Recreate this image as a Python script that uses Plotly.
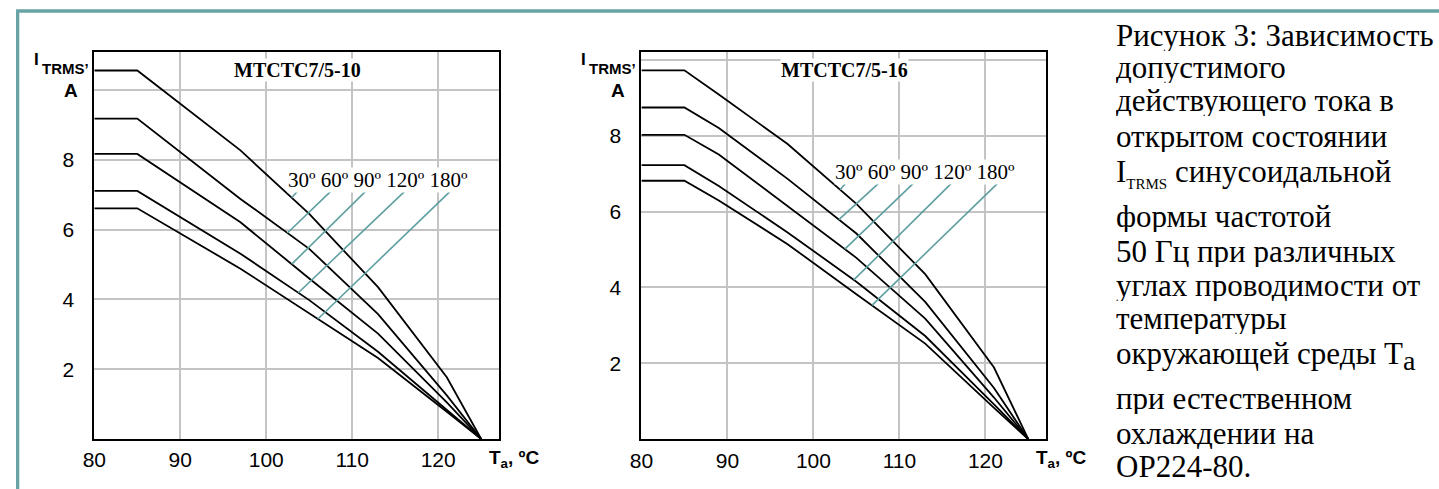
import numpy as np
import plotly.graph_objects as go

W, H = 1439, 489

# ---------------- data ----------------
angles = ["30º", "60º", "90º", "120º", "180º"]

# MTCTC7/5-10 : ambient temperature (°C) vs allowed RMS current (A)
t_10 = [80, 85, 97, 105, 113, 121, 125]
i10_30 = [10.56, 10.56, 8.27, 6.45, 4.35, 1.77, 0.0]
i10_60 = [9.18, 9.18, 6.88, 5.45, 3.58, 1.25, 0.0]
i10_90 = [8.17, 8.17, 6.21, 4.60, 3.02, 1.05, 0.0]
i10_120 = [7.11, 7.11, 5.31, 3.98, 2.50, 0.85, 0.0]
i10_180 = [6.61, 6.61, 4.88, 3.60, 2.32, 0.78, 0.0]

# MTCTC7/5-16
t_16 = [80, 85, 89, 97, 105, 113, 121, 125]
i16_30 = [9.72, 9.72, 9.08, 7.78, 6.20, 4.35, 1.89, 0.0]
i16_60 = [8.74, 8.74, 8.20, 6.86, 5.42, 3.62, 1.35, 0.0]
i16_90 = [8.02, 8.02, 7.50, 6.15, 4.78, 3.18, 1.10, 0.0]
i16_120 = [7.22, 7.22, 6.67, 5.45, 4.15, 2.72, 0.92, 0.0]
i16_180 = [6.81, 6.81, 6.29, 5.14, 3.82, 2.52, 0.83, 0.0]

x_tickvals = [80, 90, 100, 110, 120]
x_ticktext = ["80", "90", "100", "110", "120"]
y_tickvals = [2, 4, 6, 8]
y_ticktext = ["2", "4", "6", "8"]
y_extra_grid = [10]

# leader lines from angle labels to curves (data units)
leader_top_10 = [103.6, 107.47, 111.52, 116.07, 121.36]
leader_end_10 = [102.96, 102.46, 102.96, 103.73, 106.0]
leader_y_10 = 7.09
leader_top_16 = [103.73, 107.58, 111.62, 116.04, 121.42]
leader_end_16 = [103.1, 102.96, 103.65, 104.7, 106.8]
leader_y_16 = 6.74

caption_lines = [
    "Рисунок 3: Зависимость",
    "допустимого",
    "действующего тока в",
    "открытом состоянии",
    "I<sub><span style='font-size:15px'>TRMS</span></sub> синусоидальной",
    "формы частотой",
    "50 Гц при различных",
    "углах проводимости от",
    "температуры",
    "окружающей среды T<sub><span style='font-size:28px'>a</span></sub>",
    "при естественном",
    "охлаждении на",
    "ОР224-80.",
]
caption_baselines = [45, 77.5, 110.5, 146.7, 183.3, 226.7, 261.7, 295, 328.3, 366.7, 408.3, 443.3, 476.7]

# ---------------- style ----------------
TEAL = "#5e9ea0"
FRAME = "#68a4a6"
GRID = "#c4c4c4"
SANS = "Liberation Sans, Arial"
SERIF = "Liberation Serif, Times New Roman"
CAP_SIZE = 31


def px_x(px):
    return px / W


def px_y(py):
    return 1 - py / H


panels = [
    dict(x="x", y="y", left=83, right=491, top=52, bottom=439, xr=[80, 127.06], yr=[0, 11.09],
         t=t_10, curves=[i10_30, i10_60, i10_90, i10_120, i10_180],
         ltop=leader_top_10, lend=leader_end_10, ly=leader_y_10,
         title="MTCTC7/5-10", title_xy=(288, 70), lab_xy=(369, 180)),
    dict(x="x2", y="y2", left=634.7, right=1042.3, top=51.7, bottom=439.3, xr=[80, 127.0], yr=[0, 10.21],
         t=t_16, curves=[i16_30, i16_60, i16_90, i16_120, i16_180],
         ltop=leader_top_16, lend=leader_end_16, ly=leader_y_16,
         title="MTCTC7/5-16", title_xy=(840, 70), lab_xy=(921, 172)),
]

fig = go.Figure()
annotations = []

for k, p in enumerate(panels):
    for name, c in zip(angles, p["curves"]):
        fig.add_trace(go.Scatter(x=p["t"], y=c, mode="lines", name=name,
                                 line=dict(color="black", width=1.8),
                                 xaxis=p["x"], yaxis=p["y"], hoverinfo="skip"))
    for name, c, xt, xe in zip(angles, p["curves"], p["ltop"], p["lend"]):
        ye = float(np.interp(xe, p["t"], c))
        fig.add_trace(go.Scatter(x=[xt, xe], y=[p["ly"], ye], mode="lines",
                                 line=dict(color=TEAL, width=1.6),
                                 xaxis=p["x"], yaxis=p["y"], hoverinfo="skip"))

    axis_common = dict(showgrid=True, gridcolor=GRID, gridwidth=2, showline=True,
                       linecolor="black", linewidth=2, mirror=True, zeroline=False,
                       tickfont=dict(family=SANS, size=21, color="black"), fixedrange=True)
    xa = dict(axis_common, domain=[px_x(p["left"]), px_x(p["right"])], range=p["xr"],
              tickmode="array", tickvals=x_tickvals, ticktext=x_ticktext,
              anchor=p["y"], ticks="outside", ticklen=1, tickcolor="white")
    ya = dict(axis_common, domain=[px_y(p["bottom"]), px_y(p["top"])], range=p["yr"],
              tickmode="array", tickvals=y_tickvals, ticktext=y_ticktext,
              anchor=p["x"], ticks="outside", ticklen=14, tickcolor="white",
              minor=dict(tickmode="array", tickvals=y_extra_grid, showgrid=True,
                         gridcolor=GRID, gridwidth=2, ticks=""))
    suffix = "" if k == 0 else "2"
    fig.update_layout({"xaxis" + suffix: xa, "yaxis" + suffix: ya})

    L = p["left"]
    # chart title
    annotations.append(dict(text="<b>" + p["title"] + "</b>", xref="paper", yref="paper",
                            x=px_x(p["title_xy"][0]), y=px_y(p["title_xy"][1]),
                            xanchor="center", yanchor="middle", showarrow=False,
                            bgcolor="white", borderpad=0,
                            font=dict(family=SERIF, size=20, color="black")))
    # angle labels
    annotations.append(dict(text=" ".join(angles), xref="paper", yref="paper",
                            x=px_x(p["lab_xy"][0]), y=px_y(p["lab_xy"][1]),
                            xanchor="center", yanchor="middle", showarrow=False,
                            bgcolor="white", borderpad=0,
                            font=dict(family=SERIF, size=21, color="black")))
    # y-axis title pieces
    annotations.append(dict(text="<b>I</b>", xref="paper", yref="paper",
                            x=px_x(L - 58), y=px_y(59), xanchor="center", yanchor="middle",
                            showarrow=False, font=dict(family=SANS, size=17, color="black")))
    annotations.append(dict(text="<b>TRMS’</b>", xref="paper", yref="paper",
                            x=px_x(L - 53), y=px_y(68), xanchor="left", yanchor="middle",
                            showarrow=False, borderpad=0, borderwidth=0,
                            font=dict(family=SANS, size=15, color="black")))
    annotations.append(dict(text="<b>A</b>", xref="paper", yref="paper",
                            x=px_x(L - 24), y=px_y(90), xanchor="center", yanchor="middle",
                            showarrow=False, font=dict(family=SANS, size=19, color="black")))
    # x-axis title
    annotations.append(dict(text="<b>T<sub>a</sub>, ºC</b>", xref="paper", yref="paper",
                            x=px_x(L + 396), y=px_y(459), xanchor="left", yanchor="middle",
                            showarrow=False, font=dict(family=SANS, size=19, color="black")))

# caption text on the right (one annotation per line, box height limited to line pitch)
for line, base in zip(caption_lines, caption_baselines):
    annotations.append(dict(text=line, xref="paper", yref="paper",
                            x=px_x(1113), y=px_y(base - 0.3375 * CAP_SIZE),
                            xanchor="left", yanchor="middle", height=32,
                            showarrow=False, borderpad=0, borderwidth=0,
                            font=dict(family=SERIF, size=CAP_SIZE, color="black")))

fig.update_layout(
    width=W, height=H, margin=dict(l=0, r=0, t=0, b=0, pad=0),
    paper_bgcolor="white", plot_bgcolor="white", showlegend=False,
    annotations=annotations,
    shapes=[dict(type="rect", xref="paper", yref="paper",
                 x0=px_x(5.7), x1=1.05, y0=-0.05, y1=px_y(11),
                 line=dict(color=FRAME, width=3.3), fillcolor="rgba(0,0,0,0)", layer="above")],
)

fig.write_html("out.html", config={"displayModeBar": False},
               post_script="document.body.style.margin='0';document.body.style.overflow='hidden';")
